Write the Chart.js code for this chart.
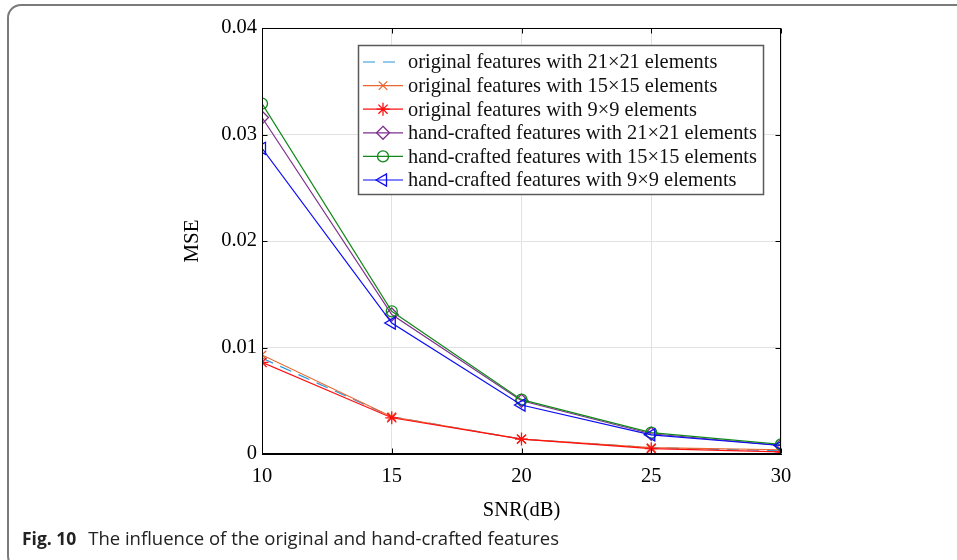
<!DOCTYPE html>
<html>
<head>
<meta charset="utf-8">
<script src="https://cdn.jsdelivr.net/npm/chart.js@4"></script>
<style>
  html, body { margin: 0; padding: 0; width: 957px; height: 560px; overflow: hidden; background: #fff; }
  #frame {
    position: absolute; left: 7px; top: 4px; width: 1000px; height: 566px;
    border: 2px solid #7a7a7a; border-radius: 14px; box-sizing: border-box;
  }
  #wrap { position: absolute; left: 0; top: 0; width: 957px; height: 560px; }
  #caption {
    position: absolute; left: 22px; top: 525px;
    font-family: "Open Sans", sans-serif; font-size: 18.5px; color: #222; white-space: nowrap;
  }
  #caption b { font-weight: 700; font-size: 17.5px; margin-right: 7px; }
</style>
</head>
<body>
<div id="frame"></div>
<div id="wrap"><canvas id="c" width="957" height="560"></canvas></div>
<div id="caption"><b>Fig. 10</b> The influence of the original and hand-crafted features</div>
<script>
// SNR values (dB) on the x axis
const snr = [10, 15, 20, 25, 30];

// MSE for each feature set
const orig21 = [0.0090, 0.0035, 0.0014, 0.0006, 0.0003];
const orig15 = [0.0093, 0.0035, 0.0014, 0.0006, 0.0004];
const orig9  = [0.0086, 0.0034, 0.0014, 0.0005, 0.0002];
const hand21 = [0.0316, 0.0131, 0.0050, 0.0019, 0.0008];
const hand15 = [0.0329, 0.0134, 0.0051, 0.0020, 0.0009];
const hand9  = [0.0287, 0.0123, 0.0046, 0.0018, 0.0008];

const seriesLabels = [
  'original features with 21\u00d721 elements',
  'original features with 15\u00d715 elements',
  'original features with 9\u00d79 elements',
  'hand-crafted features with 21\u00d721 elements',
  'hand-crafted features with 15\u00d715 elements',
  'hand-crafted features with 9\u00d79 elements'
];

const yTicks = [0, 0.01, 0.02, 0.03, 0.04];
const xTicks = [10, 15, 20, 25, 30];

const serif = '"Liberation Serif", "Times New Roman", serif';

const styles = [
  { color: '#2a97dc', marker: false,      dash: [12, 8], radius: 0 },
  { color: '#e8672f', marker: 'crossRot', dash: [],      radius: 6 },
  { color: '#ff1010', marker: 'star',     dash: [],      radius: 6.5 },
  { color: '#7e2f8e', marker: 'rectRot',  dash: [],      radius: 6.5 },
  { color: '#12881a', marker: 'circle',   dash: [],      radius: 5.5 },
  { color: '#0b0bf5', marker: 'triangle', dash: [],      radius: 7, rot: -90 }
];
const values = [orig21, orig15, orig9, hand21, hand15, hand9];

const datasets = values.map((vals, i) => ({
  label: seriesLabels[i],
  data: snr.map((x, k) => ({ x: x, y: vals[k] })),
  borderColor: styles[i].color,
  backgroundColor: styles[i].color,
  borderWidth: 1.2,
  borderDash: styles[i].dash,
  pointStyle: styles[i].marker,
  pointRadius: styles[i].radius,
  pointHoverRadius: styles[i].radius,
  pointRotation: styles[i].rot || 0,
  pointBorderColor: styles[i].color,
  pointBackgroundColor: 'rgba(0,0,0,0)',
  pointBorderWidth: 1.3,
  tension: 0,
  order: values.length - 1 - i
}));

// small marker painter for the legend samples
function marker(ctx, kind, x, y, r) {
  ctx.beginPath();
  if (kind === 'crossRot') {
    const d = r * Math.SQRT1_2;
    ctx.moveTo(x - d, y - d); ctx.lineTo(x + d, y + d);
    ctx.moveTo(x - d, y + d); ctx.lineTo(x + d, y - d);
  } else if (kind === 'star') {
    const d = r * Math.SQRT1_2;
    ctx.moveTo(x - r, y); ctx.lineTo(x + r, y);
    ctx.moveTo(x, y - r); ctx.lineTo(x, y + r);
    ctx.moveTo(x - d, y - d); ctx.lineTo(x + d, y + d);
    ctx.moveTo(x - d, y + d); ctx.lineTo(x + d, y - d);
  } else if (kind === 'rectRot') {
    ctx.moveTo(x, y - r); ctx.lineTo(x + r, y); ctx.lineTo(x, y + r); ctx.lineTo(x - r, y); ctx.closePath();
  } else if (kind === 'circle') {
    ctx.arc(x, y, r, 0, Math.PI * 2);
  } else if (kind === 'triangle') {
    // left-pointing triangle
    const s = r * Math.sqrt(3) / 2;
    ctx.moveTo(x - r, y); ctx.lineTo(x + r / 2, y - s); ctx.lineTo(x + r / 2, y + s); ctx.closePath();
  }
  ctx.stroke();
}

const frameBox = {
  id: 'frameBox',
  afterDatasetsDraw(chart) {
    const { ctx, chartArea: a, scales } = chart;
    ctx.save();
    ctx.strokeStyle = '#000';
    ctx.lineWidth = 1;
    const L = Math.round(a.left) + 0.5, R = Math.round(a.right) - 0.5;
    const T = Math.round(a.top) + 0.5, B = Math.round(a.bottom) - 0.5;
    ctx.strokeRect(L, T, R - L, B - T);
    const tl = 5;
    ctx.beginPath();
    xTicks.forEach(v => {
      const px = Math.round(scales.x.getPixelForValue(v)) + 0.5;
      ctx.moveTo(px, B); ctx.lineTo(px, B - tl);
      ctx.moveTo(px, T); ctx.lineTo(px, T + tl);
    });
    yTicks.forEach(v => {
      const py = Math.round(scales.y.getPixelForValue(v)) + 0.5;
      ctx.moveTo(L, py); ctx.lineTo(L + tl, py);
      ctx.moveTo(R, py); ctx.lineTo(R - tl, py);
    });
    ctx.stroke();
    ctx.restore();
  },
  afterDraw(chart) {
    const ctx = chart.ctx;
    const bx = 358.5, by = 45.5, bw = 405, bh = 149;
    ctx.save();
    ctx.fillStyle = '#fff';
    ctx.fillRect(bx, by, bw, bh);
    ctx.strokeStyle = '#5a5a5a';
    ctx.lineWidth = 1.5;
    ctx.strokeRect(bx, by, bw, bh);
    ctx.font = '20.4px ' + serif;
    ctx.textBaseline = 'middle';
    ctx.fillStyle = '#111';
    chart.data.datasets.forEach((ds, i) => {
      const y = 62 + i * 23.6;
      ctx.strokeStyle = styles[i].color;
      ctx.lineWidth = 1.2;
      ctx.setLineDash(styles[i].dash);
      ctx.beginPath();
      ctx.moveTo(363, y); ctx.lineTo(403, y);
      ctx.stroke();
      ctx.setLineDash([]);
      if (styles[i].marker) {
        ctx.lineWidth = 1.3;
        marker(ctx, styles[i].marker, 383, y, styles[i].radius);
      }
      ctx.fillText(ds.label, 408, y + 1);
    });
    ctx.restore();
  }
};

new Chart(document.getElementById('c'), {
  type: 'line',
  data: { datasets: datasets },
  options: {
    responsive: false,
    animation: false,
    devicePixelRatio: 1,
    layout: { padding: { left: 176, right: 176, top: 28, bottom: 33 } },
    plugins: { legend: { display: false }, tooltip: { enabled: false } },
    scales: {
      x: {
        type: 'linear', min: 10, max: 30,
        afterBuildTicks(s) { s.ticks = xTicks.map(v => ({ value: v })); },
        afterFit(s) { s.height = 73; },
        grid: { color: '#e2e2e2', lineWidth: 1, drawTicks: false },
        border: { display: true, color: '#000', width: 1 },
        ticks: { color: '#000', font: { family: serif, size: 20.5 }, padding: 10, maxRotation: 0 },
        title: { display: true, text: 'SNR(dB)', color: '#000', font: { family: serif, size: 20.5 } }
      },
      y: {
        type: 'linear', min: 0, max: 0.04,
        afterBuildTicks(s) { s.ticks = yTicks.map(v => ({ value: v })); },
        afterFit(s) { s.width = 86; },
        grid: { color: '#e2e2e2', lineWidth: 1, drawTicks: false },
        border: { display: true, color: '#000', width: 1 },
        ticks: {
          color: '#000', font: { family: serif, size: 20.5 }, padding: 5,
          callback: v => (v === 0 ? '0' : v.toFixed(2))
        },
        title: { display: true, text: 'MSE', color: '#000', font: { family: serif, size: 21 } }
      }
    }
  },
  plugins: [frameBox]
});
</script>
</body>
</html>
